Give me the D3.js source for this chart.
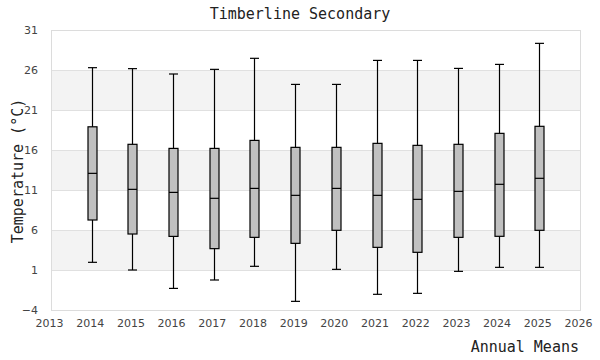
<!DOCTYPE html>
<html><head><meta charset="utf-8">
<script src="https://cdn.jsdelivr.net/npm/d3@7"></script>
<style>body{margin:0;background:#fff}svg{display:block}</style>
</head><body><svg id="c" width="600" height="360"></svg>
<script>
const years = [2014,2015,2016,2017,2018,2019,2020,2021,2022,2023,2024,2025];
const lowValues    = [1.96, 1.0, -1.3, -0.25, 1.46, -2.92, 1.08, -2.04, -1.92, 0.83, 1.33, 1.33];
const q1Values     = [7.25, 5.5, 5.2, 3.67, 5.08, 4.33, 5.96, 3.83, 3.21, 5.08, 5.21, 5.96];
const medianValues = [13.08, 11.08, 10.7, 9.96, 11.2, 10.33, 11.2, 10.33, 9.83, 10.83, 11.71, 12.46];
const q3Values     = [18.9, 16.71, 16.2, 16.2, 17.2, 16.33, 16.33, 16.83, 16.58, 16.71, 18.08, 18.96];
const highValues   = [26.29, 26.17, 25.5, 26.08, 27.46, 24.2, 24.2, 27.2, 27.2, 26.2, 26.7, 29.33];
const yTicks = [-4, 1, 6, 11, 16, 21, 26, 31];
const xTicks = [2013,2014,2015,2016,2017,2018,2019,2020,2021,2022,2023,2024,2025,2026];

const svg = d3.select("#c");
const L = 51, R = 580, T = 30, B = 310;
const x = d3.scaleLinear().domain([2013, 2026]).range([L, R]);
const y = d3.scaleLinear().domain([-4, 31]).range([B, T]);

// bands
for (let i = 0; i < yTicks.length - 1; i++) {
  if (i % 2 === 1) {
    svg.append("rect").attr("x", L).attr("width", R - L)
      .attr("y", y(yTicks[i+1])).attr("height", y(yTicks[i]) - y(yTicks[i+1]))
      .attr("fill", "#f3f3f3");
  }
}
// grid
svg.append("g").selectAll("line").data(yTicks).join("line")
  .attr("x1", L).attr("x2", R).attr("y1", d => Math.round(y(d)) + 0.5).attr("y2", d => Math.round(y(d)) + 0.5)
  .attr("stroke", "#e0e0e0");
svg.append("rect").attr("x", L + 0.5).attr("y", T + 0.5).attr("width", R - L).attr("height", B - T)
  .attr("fill", "none").attr("stroke", "#dcdcdc");

// axes labels
const yAxis = d3.axisLeft(y).tickValues(yTicks).tickSize(0).tickPadding(13);
const ga = svg.append("g").attr("transform", `translate(${L},0)`).call(yAxis);
ga.select(".domain").remove();
ga.selectAll("text").attr("font-family", "DejaVu Sans").attr("font-size", 11).attr("fill", "#444");
const xAxis = d3.axisBottom(x).tickValues(xTicks).tickFormat(d3.format("d")).tickSize(0).tickPadding(9);
const gx = svg.append("g").attr("transform", `translate(-2,${B})`).call(xAxis);
gx.select(".domain").remove();
gx.selectAll("text").attr("font-family", "DejaVu Sans").attr("font-size", 11).attr("fill", "#444");

// boxes
const data = years.map((yr, i) => ({yr, lo: lowValues[i], q1: q1Values[i], med: medianValues[i], q3: q3Values[i], hi: highValues[i]}));
const bw = 9;
const g = svg.append("g").attr("stroke", "#000").attr("stroke-width", 1.2);
const px = d => Math.round(x(d.yr)) + 0.5;
g.selectAll(".w").data(data).join("line")
  .attr("x1", px).attr("x2", px).attr("y1", d => y(d.hi)).attr("y2", d => y(d.lo));
g.selectAll(".ct").data(data).join("line")
  .attr("x1", d => px(d) - bw/2).attr("x2", d => px(d) + bw/2).attr("y1", d => y(d.hi)).attr("y2", d => y(d.hi));
g.selectAll(".cb").data(data).join("line")
  .attr("x1", d => px(d) - bw/2).attr("x2", d => px(d) + bw/2).attr("y1", d => y(d.lo)).attr("y2", d => y(d.lo));
g.selectAll(".b").data(data).join("rect")
  .attr("x", d => px(d) - bw/2).attr("width", bw).attr("y", d => y(d.q3)).attr("height", d => y(d.q1) - y(d.q3))
  .attr("fill", "#c0c0c0");
g.selectAll(".m").data(data).join("line")
  .attr("x1", d => px(d) - bw/2).attr("x2", d => px(d) + bw/2).attr("y1", d => y(d.med)).attr("y2", d => y(d.med));

// titles
svg.append("text").attr("x", 300).attr("y", 19).attr("text-anchor", "middle")
  .attr("font-family", "DejaVu Sans Mono").attr("font-size", 15).attr("fill", "#222").text("Timberline Secondary");
svg.append("text").attr("transform", "translate(23,171) rotate(-90)").attr("text-anchor", "middle")
  .attr("font-family", "DejaVu Sans Mono").attr("font-size", 15).attr("fill", "#222").text("Temperature (°C)");
svg.append("text").attr("x", 579).attr("y", 352).attr("text-anchor", "end")
  .attr("font-family", "DejaVu Sans Mono").attr("font-size", 15).attr("fill", "#222").text("Annual Means");
</script></body></html>
